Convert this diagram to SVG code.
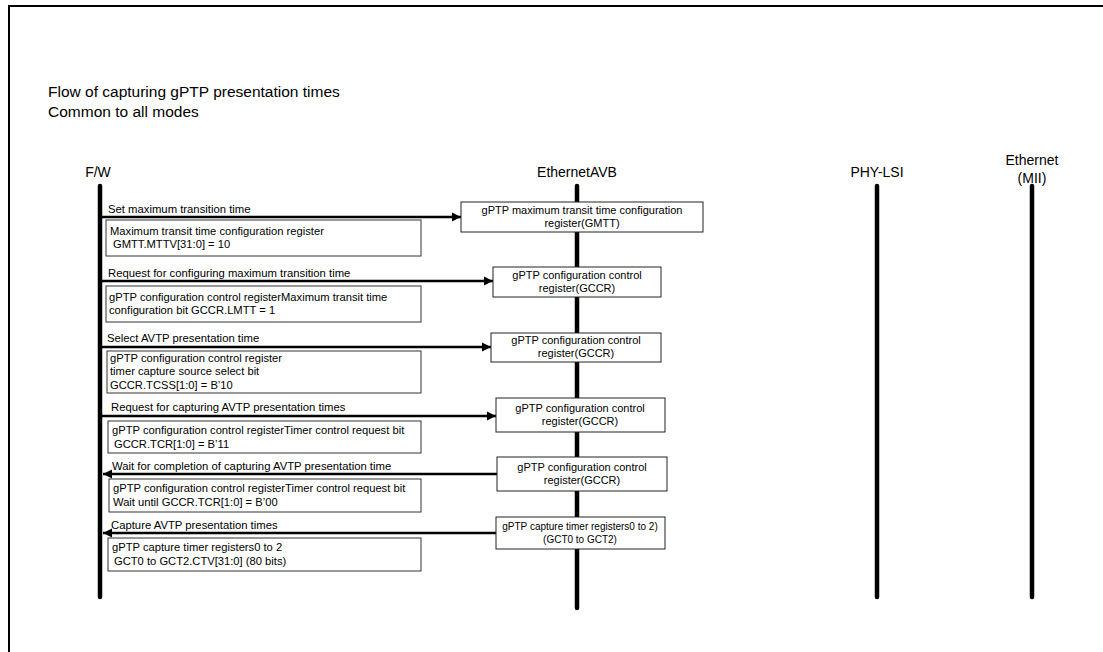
<svg xmlns="http://www.w3.org/2000/svg" width="1103" height="652" viewBox="0 0 1103 652">
<defs>
<marker id="ah" viewBox="0 0 10 10" refX="10" refY="5" markerWidth="9" markerHeight="10" markerUnits="userSpaceOnUse" orient="auto">
<path d="M0,0 L10,5 L0,10 Z" fill="#000"/>
</marker>
</defs>
<style>
text{font-family:"Liberation Sans",Arial,sans-serif;fill:#000}
.title{font-size:15.5px}
.hdr{font-size:14px;text-anchor:middle}
.lbl{font-size:11.3px}
.bt{font-size:11px;text-anchor:middle}
.nt{font-size:11.2px}
.life{stroke:#000;stroke-width:4.5;stroke-linecap:round;fill:none}
.msg{stroke:#000;stroke-width:2.5;fill:none;marker-end:url(#ah)}
.box{fill:#fff;stroke:#222;stroke-width:1}
.note{fill:#fff;stroke:#333;stroke-width:1}
</style>
<rect width="1103" height="652" fill="#fff"/>
<path d="M9,652 L9,6 L1103,6" fill="none" stroke="#000" stroke-width="2"/>
<g id="title">
<text class="title" x="48" y="97">Flow of capturing gPTP presentation times</text>
<text class="title" x="48" y="117">Common to all modes</text>
</g>
<g id="fw">
<text class="hdr" x="98" y="177">F/W</text>
<line class="life" x1="100" y1="186" x2="100" y2="597"/>
</g>
<g id="avb">
<text class="hdr" x="577" y="177">EthernetAVB</text>
<line class="life" x1="577" y1="186" x2="577" y2="608"/>
</g>
<g id="phy">
<text class="hdr" x="877" y="177">PHY-LSI</text>
<line class="life" x1="877" y1="186" x2="877" y2="597"/>
</g>
<g id="mii">
<text class="hdr" x="1032" y="165">Ethernet</text>
<text class="hdr" x="1032" y="183">(MII)</text>
<line class="life" x1="1032" y1="186" x2="1032" y2="597"/>
</g>
<g id="connectors">
<line class="msg" x1="100" y1="217" x2="461" y2="217"/>
<text class="lbl" x="108" y="213">Set maximum transition time</text>
<line class="msg" x1="100" y1="281" x2="493" y2="281"/>
<text class="lbl" x="108" y="277">Request for configuring maximum transition time</text>
<line class="msg" x1="100" y1="347" x2="491" y2="347"/>
<text class="lbl" x="107" y="342">Select AVTP presentation time</text>
<line class="msg" x1="100" y1="416" x2="496" y2="416"/>
<text class="lbl" x="111" y="411">Request for capturing AVTP presentation times</text>
<line class="msg" x1="497" y1="474" x2="103" y2="474"/>
<text class="lbl" x="112" y="470">Wait for completion of capturing AVTP presentation time</text>
<line class="msg" x1="496" y1="533" x2="103" y2="533"/>
<text class="lbl" x="111" y="529">Capture AVTP presentation times</text>
</g>
<g id="box1">
<rect class="box" x="461" y="202" width="242" height="30"/>
<text class="bt" x="582" y="214">gPTP maximum transit time configuration</text>
<text class="bt" x="582" y="227">register(GMTT)</text>
</g>
<g id="box2">
<rect class="box" x="493" y="267" width="168" height="30"/>
<text class="bt" x="577" y="279">gPTP configuration control</text>
<text class="bt" x="577" y="292">register(GCCR)</text>
</g>
<g id="box3">
<rect class="box" x="491" y="333" width="170" height="29"/>
<text class="bt" x="576" y="344">gPTP configuration control</text>
<text class="bt" x="576" y="357">register(GCCR)</text>
</g>
<g id="box4">
<rect class="box" x="496" y="398" width="169" height="34"/>
<text class="bt" x="580" y="412">gPTP configuration control</text>
<text class="bt" x="580" y="425">register(GCCR)</text>
</g>
<g id="box5">
<rect class="box" x="497" y="457" width="170" height="34"/>
<text class="bt" x="582" y="471">gPTP configuration control</text>
<text class="bt" x="582" y="484">register(GCCR)</text>
</g>
<g id="box6">
<rect class="box" x="496" y="517" width="169" height="32"/>
<text class="bt" x="580" y="530" style="font-size:10px">gPTP capture timer registers0 to 2)</text>
<text class="bt" x="580" y="543" style="font-size:10px">(GCT0 to GCT2)</text>
</g>
<g id="note1">
<rect class="note" x="106" y="220" width="315" height="36"/>
<text class="nt" x="110" y="235">Maximum transit time configuration register</text>
<text class="nt" x="113" y="248">GMTT.MTTV[31:0] = 10</text>
</g>
<g id="note2">
<rect class="note" x="106" y="286" width="315" height="36"/>
<text class="nt" x="109" y="301">gPTP configuration control registerMaximum transit time</text>
<text class="nt" x="109" y="314">configuration bit  GCCR.LMTT = 1</text>
</g>
<g id="note3">
<rect class="note" x="107" y="351" width="314" height="42"/>
<text class="nt" x="110" y="362">gPTP configuration control register</text>
<text class="nt" x="110" y="375">timer capture source select bit</text>
<text class="nt" x="110" y="389">GCCR.TCSS[1:0]  = B’10</text>
</g>
<g id="note4">
<rect class="note" x="108" y="421" width="313" height="32"/>
<text class="nt" x="112" y="434">gPTP configuration control registerTimer control request bit</text>
<text class="nt" x="114" y="448">GCCR.TCR[1:0] = B’11</text>
</g>
<g id="note5">
<rect class="note" x="109" y="479" width="312" height="33"/>
<text class="nt" x="113" y="492">gPTP configuration control registerTimer control request bit</text>
<text class="nt" x="113" y="506">Wait until  GCCR.TCR[1:0] = B’00</text>
</g>
<g id="note6">
<rect class="note" x="108" y="538" width="313" height="33"/>
<text class="nt" x="112" y="551">gPTP capture timer registers0 to 2</text>
<text class="nt" x="114" y="565">GCT0 to GCT2.CTV[31:0] (80 bits)</text>
</g>
</svg>
